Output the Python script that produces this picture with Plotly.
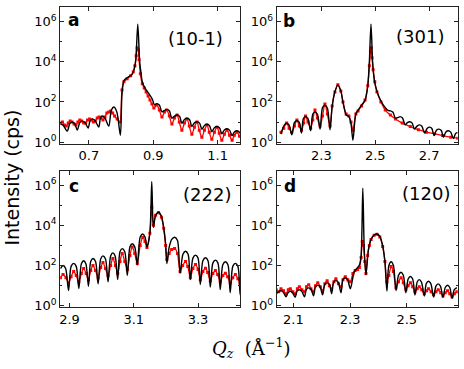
import plotly.graph_objects as go

# ---------------- data (log10 of intensity in cps) ----------------
# Panel a  (10-1)
a_fit_q = [0.612, 0.620, 0.633, 0.641, 0.648, 0.656, 0.664, 0.672, 0.679, 0.688,
           0.698, 0.704, 0.710, 0.719, 0.731, 0.736, 0.741, 0.750, 0.762, 0.770,
           0.778, 0.787, 0.798, 0.803, 0.809, 0.819, 0.835, 0.842, 0.846, 0.852,
           0.858, 0.862, 0.866, 0.876, 0.887, 0.897, 0.904, 0.911, 0.919, 0.927,
           0.934, 0.942, 0.950, 0.958, 0.966, 0.974, 0.982, 0.989, 0.997, 1.005,
           1.013, 1.020, 1.028, 1.036, 1.044, 1.051, 1.059, 1.067, 1.075, 1.082,
           1.090, 1.098, 1.106, 1.113, 1.121, 1.129, 1.137, 1.145, 1.152, 1.160,
           1.168, 1.176]
a_fit_log = [0.9, 0.85, 0.55, 0.93, 1.0, 0.93, 0.6, 0.98, 1.05, 0.98,
             0.7, 1.07, 1.15, 1.08, 0.75, 1.2, 1.3, 1.2, 0.8, 1.6,
             1.75, 1.5, 0.35, 2.4, 3.06, 3.2, 3.38, 3.7, 4.1, 5.87,
             4.0, 3.46, 3.0, 2.65, 2.4, 2.15, 1.85, 1.92, 1.85, 1.51,
             1.57, 1.63, 1.56, 1.19, 1.3, 1.35, 1.28, 0.94, 1.13, 1.19,
             1.12, 0.78, 0.96, 1.02, 0.95, 0.65, 0.83, 0.89, 0.82, 0.52,
             0.72, 0.78, 0.71, 0.42, 0.61, 0.67, 0.6, 0.33, 0.51, 0.57,
             0.5, 0.26]
a_dat_q = [0.612, 0.618, 0.624, 0.630, 0.636, 0.642, 0.648, 0.654, 0.660, 0.666,
           0.672, 0.678, 0.684, 0.690, 0.696, 0.702, 0.708, 0.714, 0.720, 0.726,
           0.732, 0.738, 0.744, 0.750, 0.756, 0.762, 0.768, 0.774, 0.780,
           0.788, 0.796,
           0.803, 0.809, 0.819, 0.830, 0.838, 0.843, 0.847, 0.850, 0.853,
           0.856, 0.860, 0.866, 0.872, 0.878, 0.884, 0.890, 0.896, 0.902,
           0.911, 0.919, 0.927, 0.935, 0.942, 0.950, 0.958, 0.966, 0.974, 0.981,
           0.989, 0.997, 1.005, 1.012, 1.020, 1.028, 1.036, 1.043, 1.051, 1.059,
           1.067, 1.074, 1.082, 1.090, 1.098, 1.105, 1.113, 1.121, 1.129, 1.137,
           1.145, 1.152, 1.160, 1.168, 1.176]
a_dat_log = [0.95, 1.0, 0.85, 0.8, 0.95, 1.05, 1.0, 0.9, 0.85, 1.0,
             1.1, 1.05, 0.95, 0.95, 1.1, 1.15, 1.1, 1.0, 1.05, 1.2,
             1.25, 1.2, 1.1, 1.25, 1.45, 1.5, 1.55, 1.45, 1.3,
             1.15, 1.0,
             2.6, 3.0, 3.15, 3.3, 3.5, 3.8, 4.3, 4.7, 4.6,
             4.1, 3.4, 2.9, 2.7, 2.5, 2.3, 2.1, 1.9, 1.7,
             1.85, 1.6, 1.25, 1.5, 1.6, 1.3, 0.9, 1.2, 1.35, 1.0,
             0.6, 0.95, 1.15, 0.8, 0.4, 0.75, 1.0, 0.6, 0.25, 0.6,
             0.85, 0.5, 0.15, 0.5, 0.75, 0.45, 0.1, 0.4, 0.6, 0.35,
             0.1, 0.35, 0.5, 0.3, 0.15]

# Panel b  (301)
b_fit_q = [2.150, 2.162, 2.171, 2.180, 2.190, 2.200, 2.209, 2.218, 2.226, 2.233,
           2.241, 2.250, 2.260, 2.268, 2.276, 2.285, 2.295, 2.304, 2.313, 2.322,
           2.332, 2.340, 2.350, 2.361, 2.372, 2.380, 2.392, 2.402, 2.410, 2.417,
           2.428, 2.436, 2.449, 2.462, 2.472, 2.478, 2.484, 2.490, 2.496, 2.506,
           2.521, 2.537, 2.547, 2.556, 2.565, 2.575, 2.583, 2.592, 2.601, 2.611,
           2.619, 2.628, 2.637, 2.645, 2.655, 2.664, 2.673, 2.683, 2.693, 2.702,
           2.710, 2.718, 2.727, 2.736, 2.745, 2.753, 2.762, 2.771, 2.780, 2.790,
           2.798, 2.806]
b_fit_log = [0.4, 0.85, 0.94, 0.85, 0.37, 0.98, 1.07, 0.98, 0.46, 1.17,
             1.27, 1.17, 0.57, 1.4, 1.51, 1.4, 0.65, 1.72, 1.84, 1.7,
             0.62, 1.8, 2.5, 2.85, 2.55, 2.0, 1.35, 1.27, 0.9, 0.1,
             1.43, 1.59, 1.84, 2.08, 2.8, 4.0, 5.87, 4.0, 3.14, 2.54,
             2.05, 1.72, 1.58, 1.56, 1.5, 1.19, 1.22, 1.27, 1.2, 0.86,
             0.97, 1.02, 0.95, 0.65, 0.8, 0.86, 0.79, 0.46, 0.69, 0.75,
             0.68, 0.33, 0.59, 0.65, 0.58, 0.24, 0.51, 0.57, 0.5, 0.18,
             0.43, 0.49]
b_dat_q = [2.150, 2.160, 2.171, 2.180, 2.190, 2.200, 2.209, 2.218, 2.226, 2.234,
           2.241, 2.250, 2.260, 2.268, 2.276, 2.285, 2.295, 2.304, 2.313, 2.322,
           2.332, 2.340, 2.350, 2.361, 2.372, 2.380, 2.392, 2.402, 2.410, 2.417,
           2.428, 2.436, 2.449, 2.462, 2.472, 2.478, 2.482, 2.485, 2.488, 2.492,
           2.498, 2.506, 2.521, 2.537, 2.556, 2.575, 2.600, 2.630, 2.660, 2.690,
           2.720, 2.750, 2.780, 2.806]
b_dat_log = [0.5, 0.7, 0.95, 0.7, 0.5, 0.8, 1.1, 0.8, 0.6, 0.95,
             1.3, 1.0, 0.7, 1.1, 1.6, 1.2, 0.8, 1.3, 1.9, 1.4,
             0.8, 1.8, 2.5, 2.85, 2.55, 2.0, 1.4, 1.3, 1.0, 0.6,
             1.4, 1.55, 1.8, 2.1, 2.8, 3.8, 4.5, 4.7, 4.2, 3.6,
             3.0, 2.5, 2.0, 1.6, 1.35, 1.15, 0.95, 0.78, 0.62, 0.5,
             0.42, 0.33, 0.25, 0.2]

# Panel c  (222)
c_fit_q = [2.872, 2.880, 2.888, 2.897, 2.905, 2.913, 2.921, 2.929, 2.937, 2.944,
           2.951, 2.959, 2.966, 2.973, 2.981, 2.989, 2.997, 3.004, 3.012, 3.020,
           3.028, 3.035, 3.042, 3.050, 3.057, 3.064, 3.072, 3.080, 3.088, 3.095,
           3.103, 3.111, 3.120, 3.128, 3.135, 3.141, 3.150, 3.156, 3.161, 3.168,
           3.177, 3.186, 3.193, 3.199, 3.203, 3.210, 3.218, 3.227, 3.236, 3.244,
           3.253, 3.261, 3.269, 3.276, 3.284, 3.292, 3.300, 3.307, 3.315, 3.323,
           3.331, 3.338, 3.346, 3.354, 3.362, 3.369, 3.377, 3.385, 3.393, 3.400,
           3.408, 3.416, 3.424, 3.431, 3.436]
c_fit_log = [1.85, 2.0, 1.85, 0.76, 1.96, 2.11, 1.96, 0.86, 2.09, 2.24,
             2.09, 0.97, 2.2, 2.35, 2.2, 1.09, 2.33, 2.48, 2.33, 1.19,
             2.48, 2.63, 2.48, 1.30, 2.69, 2.84, 2.69, 1.51, 2.93, 3.08,
             2.93, 2.03, 3.42, 3.57, 3.42, 2.92, 3.6, 6.17, 3.9, 4.5,
             4.66, 4.45, 3.9, 3.1, 2.1, 2.9, 3.3, 3.41, 3.25, 1.62,
             2.56, 2.71, 2.56, 1.30, 2.37, 2.52, 2.37, 1.06, 2.24, 2.39,
             2.24, 0.93, 2.12, 2.27, 2.12, 0.81, 2.04, 2.19, 2.04, 0.65,
             1.96, 2.11, 1.96, 0.54, 1.5]
c_dat_q = [2.872, 2.880, 2.889, 2.897, 2.905, 2.913, 2.921, 2.929, 2.937, 2.944,
           2.952, 2.959, 2.966, 2.973, 2.981, 2.989, 2.997, 3.004, 3.012, 3.020,
           3.028, 3.035, 3.043, 3.050, 3.057, 3.064, 3.072, 3.080, 3.088, 3.095,
           3.103, 3.111, 3.120, 3.128, 3.135, 3.141, 3.150, 3.156, 3.161, 3.168,
           3.177, 3.186, 3.193, 3.199, 3.203, 3.210, 3.218, 3.227, 3.236, 3.244,
           3.252, 3.261, 3.268, 3.276, 3.284, 3.292, 3.300, 3.307, 3.315, 3.323,
           3.330, 3.338, 3.346, 3.354, 3.361, 3.369, 3.377, 3.385, 3.392, 3.400,
           3.408, 3.416, 3.424, 3.431, 3.436]
c_dat_log = [1.4, 1.55, 1.4, 1.15, 1.45, 1.7, 1.5, 1.2, 1.6, 1.85,
             1.6, 1.3, 1.75, 2.0, 1.75, 1.4, 1.9, 2.15, 1.85, 1.5,
             2.0, 2.35, 2.0, 1.6, 2.2, 2.6, 2.2, 1.8, 2.5, 2.92,
             2.6, 2.1, 3.0, 3.4, 3.2, 2.9, 3.6, 4.9, 4.0, 4.5,
             4.62, 4.4, 3.85, 3.0, 2.3, 2.6, 2.8, 2.85, 2.6, 1.7,
             2.0, 2.2, 1.95, 1.4, 1.85, 2.05, 1.8, 1.3, 1.7, 1.87,
             1.65, 1.25, 1.6, 1.75, 1.55, 1.2, 1.5, 1.62, 1.45, 1.15,
             1.4, 1.55, 1.35, 1.1, 1.25]

# Panel d  (120)
d_fit_q = [2.039, 2.048, 2.056, 2.064, 2.074, 2.081, 2.089, 2.097, 2.106, 2.113,
           2.121, 2.129, 2.139, 2.146, 2.154, 2.162, 2.171, 2.178, 2.186, 2.194,
           2.203, 2.211, 2.219, 2.227, 2.235, 2.242, 2.250, 2.258, 2.268, 2.275,
           2.283, 2.291, 2.301, 2.315, 2.333, 2.339, 2.345, 2.350, 2.356, 2.365,
           2.374, 2.385, 2.395, 2.405, 2.415, 2.423, 2.430, 2.437, 2.445, 2.453,
           2.462, 2.471, 2.480, 2.488, 2.497, 2.505, 2.513, 2.521, 2.529, 2.537,
           2.544, 2.552, 2.562, 2.569, 2.577, 2.585, 2.595, 2.603, 2.611, 2.619,
           2.628, 2.636, 2.644, 2.652, 2.660, 2.668, 2.677]
d_fit_log = [0.6, 0.7, 0.75, 0.68, 0.45, 0.65, 0.72, 0.65, 0.42, 0.73,
             0.8, 0.73, 0.45, 0.82, 0.89, 0.82, 0.5, 0.95, 1.02, 0.95,
             0.55, 1.07, 1.14, 1.07, 0.6, 1.18, 1.25, 1.18, 0.65, 1.31,
             1.38, 1.3, 0.85, 1.7, 2.03, 2.5, 5.84, 2.84, 1.54, 2.8,
             3.3, 3.52, 3.57, 3.45, 3.0, 2.2, 0.73, 2.0, 2.19, 2.0,
             0.76, 1.52, 1.67, 1.52, 0.65, 1.33, 1.46, 1.33, 0.54, 1.18,
             1.3, 1.18, 0.49, 1.1, 1.22, 1.1, 0.44, 0.98, 1.09, 0.98,
             0.41, 0.91, 1.02, 0.91, 0.37, 0.8, 0.9]
d_dat_q = [2.039, 2.048, 2.056, 2.065, 2.074, 2.082, 2.089, 2.098, 2.106, 2.114,
           2.121, 2.130, 2.139, 2.146, 2.154, 2.162, 2.171, 2.178, 2.186, 2.195,
           2.203, 2.211, 2.219, 2.227, 2.235, 2.243, 2.250, 2.259, 2.268, 2.275,
           2.283, 2.292, 2.301, 2.310, 2.318, 2.326, 2.333, 2.339, 2.343, 2.347,
           2.352, 2.356, 2.362, 2.368, 2.374, 2.385, 2.395, 2.405, 2.415, 2.423,
           2.430, 2.437, 2.445, 2.453, 2.462, 2.471, 2.480, 2.488, 2.497, 2.505,
           2.513, 2.521, 2.529, 2.537, 2.544, 2.553, 2.562, 2.570, 2.577, 2.586,
           2.595, 2.603, 2.611, 2.620, 2.628, 2.636, 2.644, 2.652, 2.660, 2.668,
           2.677]
d_dat_log = [0.8, 0.7, 0.85, 0.75, 0.6, 0.8, 0.85, 0.7, 0.6, 0.85,
             0.95, 0.8, 0.7, 0.95, 1.05, 0.85, 0.7, 1.0, 1.15, 0.95,
             0.75, 1.1, 1.25, 1.0, 0.85, 1.2, 1.35, 1.1, 0.95, 1.3,
             1.45, 1.3, 1.2, 1.6, 1.75, 1.8, 1.9, 2.4, 3.2, 3.0,
             2.2, 1.6, 2.5, 3.0, 3.3, 3.5, 3.55, 3.42, 2.95, 2.2,
             1.2, 1.5, 1.95, 1.7, 0.9, 1.2, 1.4, 1.15, 0.8, 1.0,
             1.15, 0.95, 0.7, 0.85, 0.95, 0.8, 0.6, 0.75, 0.85, 0.7,
             0.55, 0.7, 0.8, 0.65, 0.5, 0.65, 0.75, 0.6, 0.45, 0.6,
             0.7]

panel_letters = ["a", "b", "c", "d"]
panel_hkl = ["(10-1)", "(301)", "(222)", "(120)"]
x_tickvals = [[0.7, 0.9, 1.1], [2.3, 2.5, 2.7], [2.9, 3.1, 3.3], [2.1, 2.3, 2.5]]
x_ranges = [[0.611, 1.171], [2.134, 2.806], [2.871, 3.432], [2.041, 2.680]]
y_tickvals = [1, 100, 1e4, 1e6]
y_ticktext = ["10<sup>0</sup>", "10<sup>2</sup>", "10<sup>4</sup>", "10<sup>6</sup>"]
y_minor = [10, 1e3, 1e5]

fits = [(a_fit_q, a_fit_log), (b_fit_q, b_fit_log), (c_fit_q, c_fit_log), (d_fit_q, d_fit_log)]
dats = [(a_dat_q, a_dat_log), (b_dat_q, b_dat_log), (c_dat_q, c_dat_log), (d_dat_q, d_dat_log)]

# ---------------- layout geometry ----------------
W, H = 464, 369
col_px = [(59.3, 240.0), (276.3, 457.7)]
row_px = [(7.5, 146.0), (173.8, 312.3)]
pos = [(0, 0), (1, 0), (0, 1), (1, 1)]
letter_pos = [(0.035, 0.905), (0.026, 0.898), (0.040, 0.887), (0.030, 0.887)]
hkl_pos = [(0.751, 0.769), (0.789, 0.786), (0.812, 0.829), (0.825, 0.832)]

FONT = "DejaVu Sans"
fig = go.Figure()
layout = dict(
    width=W, height=H, autosize=False,
    margin=dict(l=0, r=0, t=0, b=0),
    paper_bgcolor="white", plot_bgcolor="white",
    showlegend=False,
    font=dict(family=FONT, size=13, color="black"),
)
annotations = []
axis_line = dict(showline=True, linecolor="#222", linewidth=1, mirror="ticks",
                 ticks="inside", ticklen=4, tickwidth=1, tickcolor="#222",
                 showgrid=False, zeroline=False,
                 tickfont=dict(family=FONT, size=13, color="black"))

for i in range(4):
    cx, ry = pos[i]
    sfx = "" if i == 0 else str(i + 1)
    xd = [col_px[cx][0] / W, col_px[cx][1] / W]
    yd = [1 - row_px[ry][1] / H, 1 - row_px[ry][0] / H]
    layout["xaxis" + sfx] = dict(
        domain=xd, anchor="y" + sfx, range=x_ranges[i],
        tickmode="array", tickvals=x_tickvals[i],
        ticktext=["%.1f" % v for v in x_tickvals[i]], **axis_line)
    layout["yaxis" + sfx] = dict(
        domain=yd, anchor="x" + sfx, type="log", range=[-0.07, 6.7],
        tickmode="array", tickvals=y_tickvals, ticktext=y_ticktext,
        minor=dict(tickmode="array", tickvals=y_minor, ticks="inside",
                   ticklen=2, tickcolor="#222"),
        **axis_line)
    q, lg = dats[i]
    fig.add_trace(go.Scatter(
        x=q, y=[10 ** v for v in lg], mode="lines+markers",
        line=dict(color="#ff0000", width=1.3, shape="spline", smoothing=0.8),
        marker=dict(symbol="square", size=3, color="#ff0000"),
        xaxis="x" + sfx, yaxis="y" + sfx))
    q, lg = fits[i]
    fig.add_trace(go.Scatter(
        x=q, y=[10 ** v for v in lg], mode="lines",
        line=dict(color="black", width=1.4, shape="spline", smoothing=0.8),
        xaxis="x" + sfx, yaxis="y" + sfx))
    annotations.append(dict(
        text="<b>%s</b>" % panel_letters[i], xref="x%s domain" % sfx,
        yref="y%s domain" % sfx, x=letter_pos[i][0], y=letter_pos[i][1],
        xanchor="left", yanchor="middle", showarrow=False,
        font=dict(family=FONT, size=17, color="black")))
    annotations.append(dict(
        text=panel_hkl[i], xref="x%s domain" % sfx, yref="y%s domain" % sfx,
        x=hkl_pos[i][0], y=hkl_pos[i][1], xanchor="center", yanchor="middle",
        showarrow=False, font=dict(family=FONT, size=18, color="black")))

annotations.append(dict(
    text="Intensity (cps)", xref="paper", yref="paper", x=11.5 / W, y=1 - 180 / H,
    xanchor="center", yanchor="middle", textangle=-90, showarrow=False,
    font=dict(family=FONT, size=19, color="black")))
annotations.append(dict(
    text="<i>Q</i><sub><i>z</i></sub>  (Å<sup>−1</sup>)", xref="paper", yref="paper",
    x=251 / W, y=1 - 354 / H, xanchor="center", yanchor="middle", showarrow=False,
    font=dict(family="DejaVu Serif", size=18, color="black")))
layout["annotations"] = annotations
fig.update_layout(**layout)

fig.write_html("out.html", config={"displayModeBar": False},
               post_script="document.body.style.margin='0';document.body.style.overflow='hidden';")
